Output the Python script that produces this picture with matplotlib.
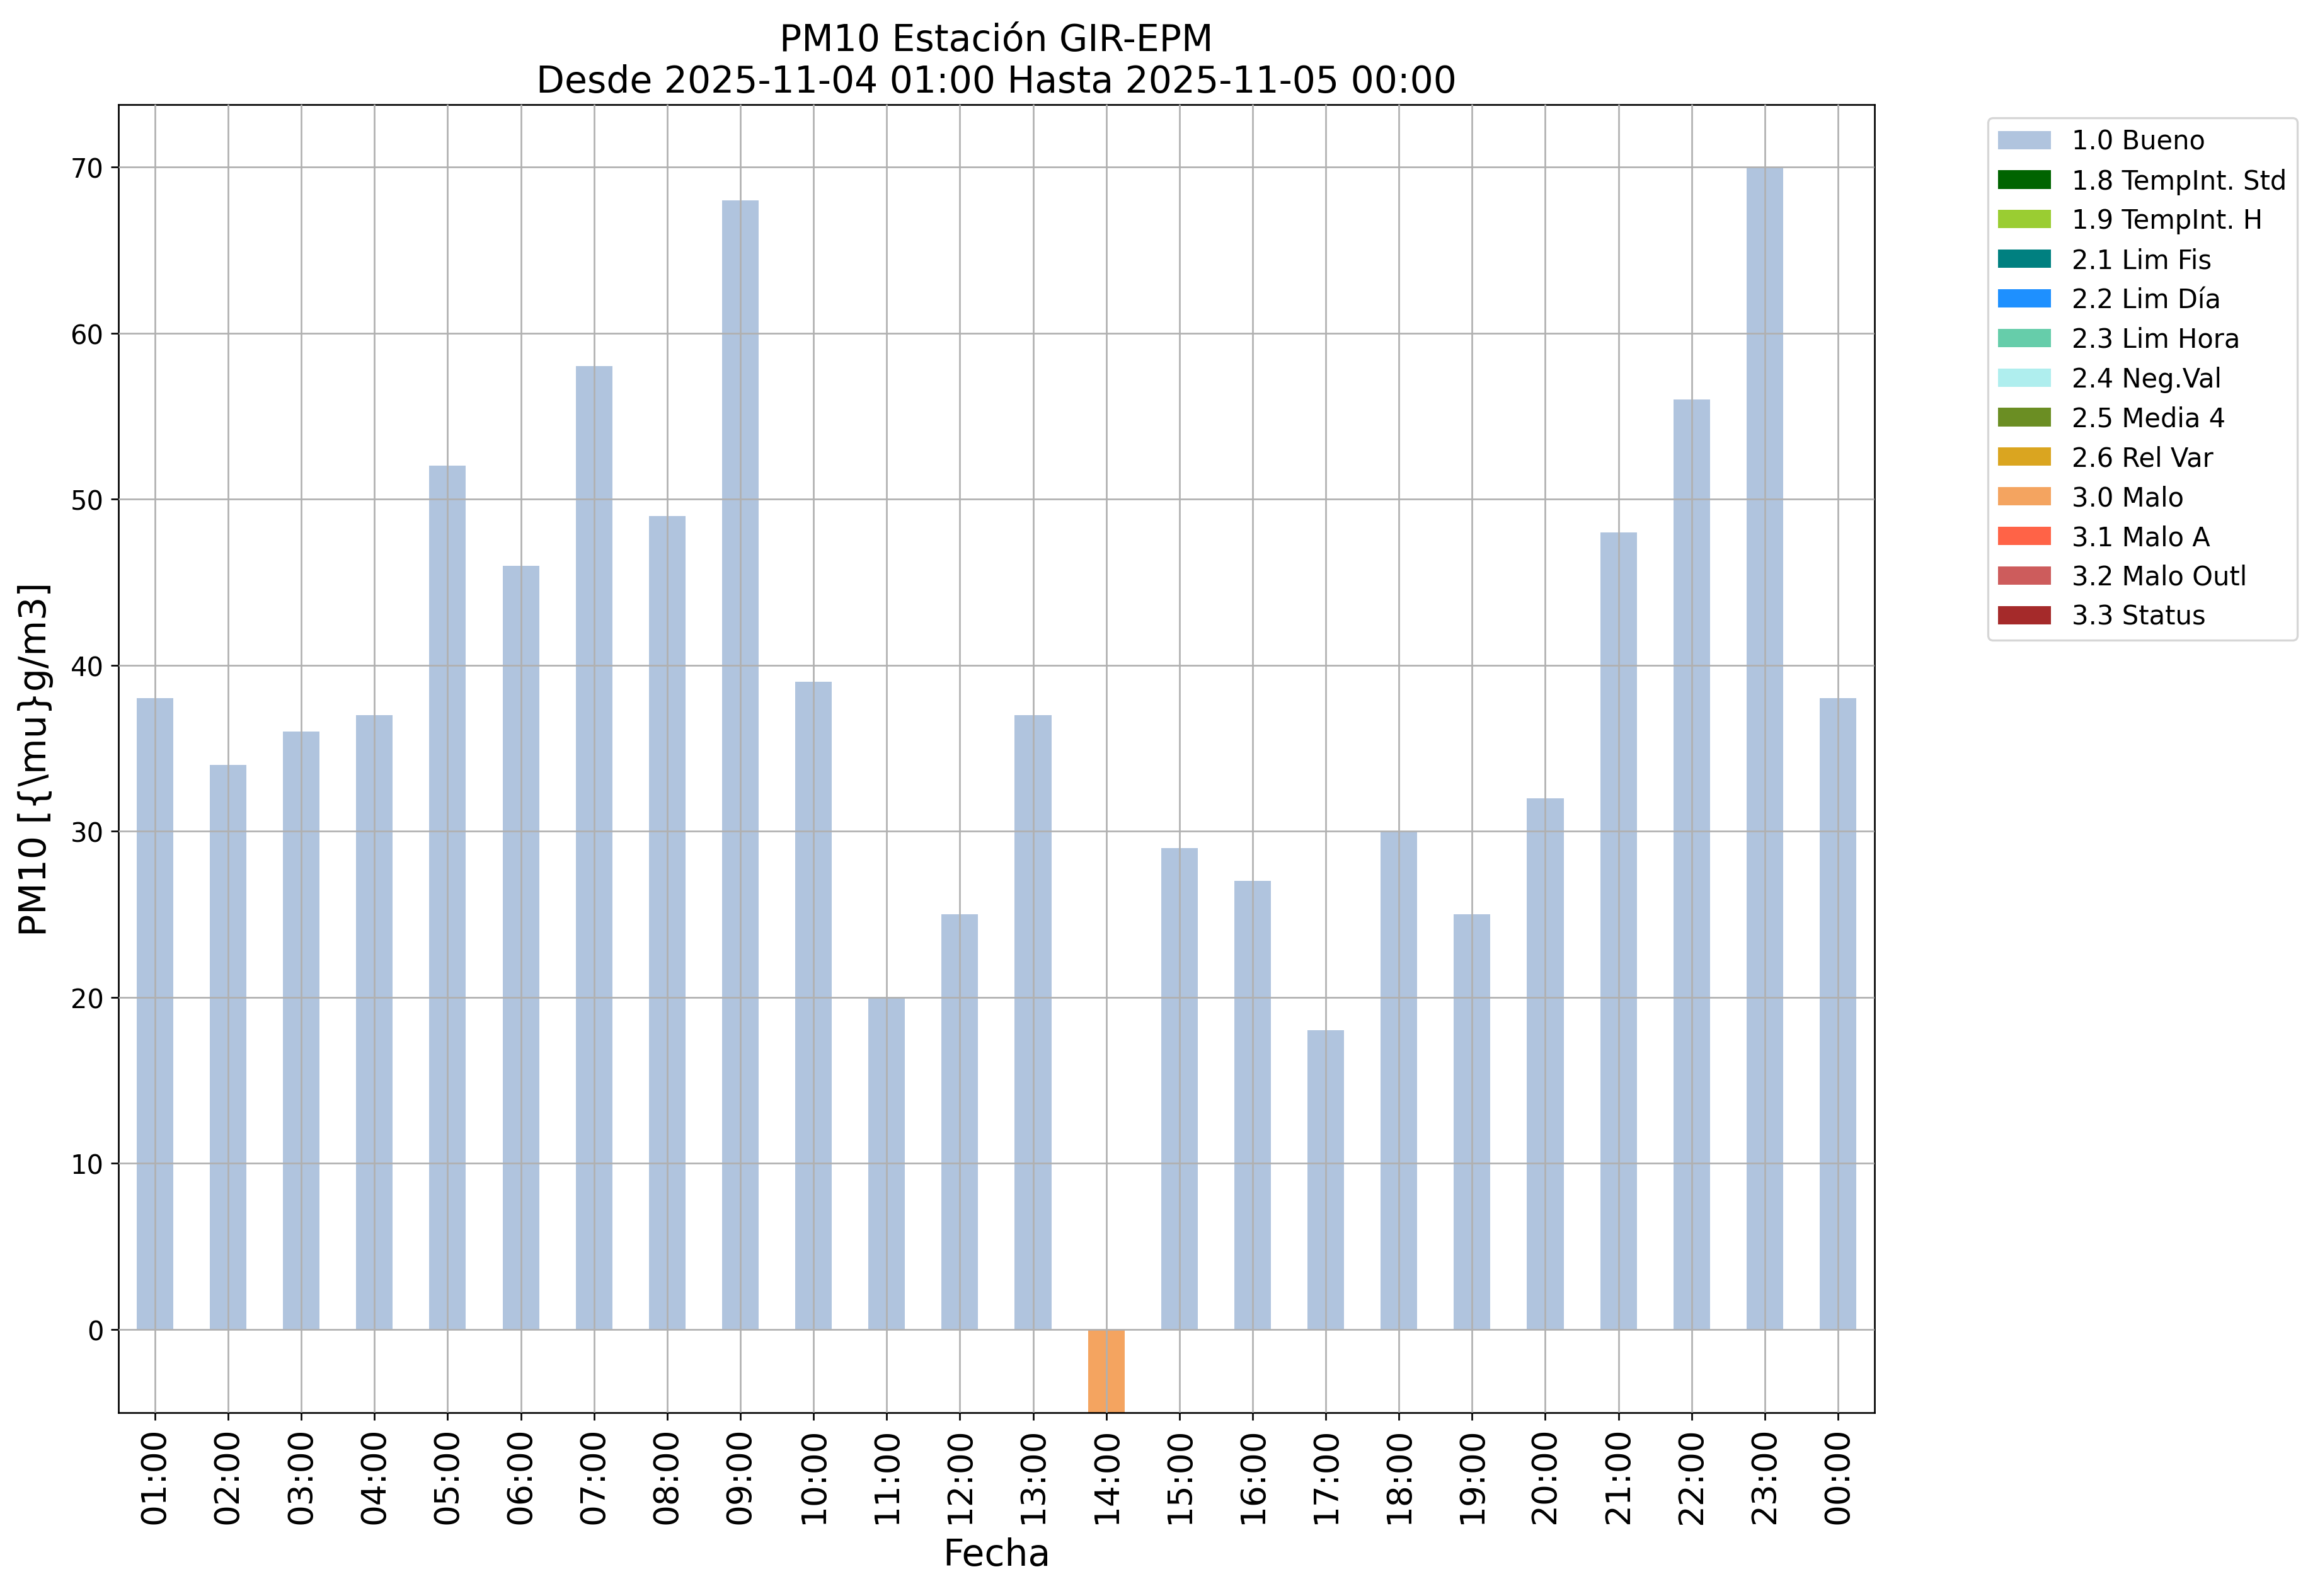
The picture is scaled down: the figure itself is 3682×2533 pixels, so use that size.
import matplotlib
matplotlib.use("Agg")
import matplotlib.pyplot as plt
from matplotlib.patches import Patch

hours = ["01:00", "02:00", "03:00", "04:00", "05:00", "06:00", "07:00", "08:00",
         "09:00", "10:00", "11:00", "12:00", "13:00", "14:00", "15:00", "16:00",
         "17:00", "18:00", "19:00", "20:00", "21:00", "22:00", "23:00", "00:00"]
values = [38, 34, 36, 37, 52, 46, 58, 49, 68, 39, 20, 25, 37, -5, 29, 27,
          18, 30, 25, 32, 48, 56, 70, 38]
flags = ["1.0"] * 13 + ["3.0"] + ["1.0"] * 10

legend_labels = ["1.0 Bueno", "1.8 TempInt. Std", "1.9 TempInt. H", "2.1 Lim Fis",
                 "2.2 Lim Día", "2.3 Lim Hora", "2.4 Neg.Val", "2.5 Media 4",
                 "2.6 Rel Var", "3.0 Malo", "3.1 Malo A", "3.2 Malo Outl", "3.3 Status"]
legend_colors = ["lightsteelblue", "darkgreen", "yellowgreen", "teal", "dodgerblue",
                 "mediumaquamarine", "paleturquoise", "olivedrab", "goldenrod",
                 "sandybrown", "tomato", "indianred", "brown"]
color_map = {lab.split()[0]: c for lab, c in zip(legend_labels, legend_colors)}

fig = plt.figure(figsize=(15.342, 10.558), dpi=240)
ax = fig.add_axes([0.051, 0.115, 0.757, 0.819])

x = list(range(len(hours)))
ax.bar(x, values, width=0.5, color=[color_map[f] for f in flags], zorder=1)
ax.set_axisbelow(False)
ax.grid(True, color="#b0b0b0", linewidth=0.8, zorder=2)
ax.set_xlim(-0.5, len(hours) - 0.5)
ax.set_ylim(-5, 73.75)
ax.set_xticks(x)
ax.set_xticklabels(hours, rotation=90, fontsize=16)
ax.tick_params(axis="y", labelsize=12.5)
ax.set_xlabel("Fecha", fontsize=17.5, labelpad=6)
ax.set_ylabel("PM10 [{\\mu}g/m3]", fontsize=17.5, labelpad=8)
ax.set_title("PM10 Estación GIR-EPM\nDesde 2025-11-04 01:00 Hasta 2025-11-05 00:00", fontsize=17.5)

handles = [Patch(facecolor=c, label=l) for l, c in zip(legend_labels, legend_colors)]
ax.legend(handles=handles, loc="upper left", bbox_to_anchor=(1.057, 1.0), fontsize=12.5)

fig.savefig("out.png", dpi=240)
